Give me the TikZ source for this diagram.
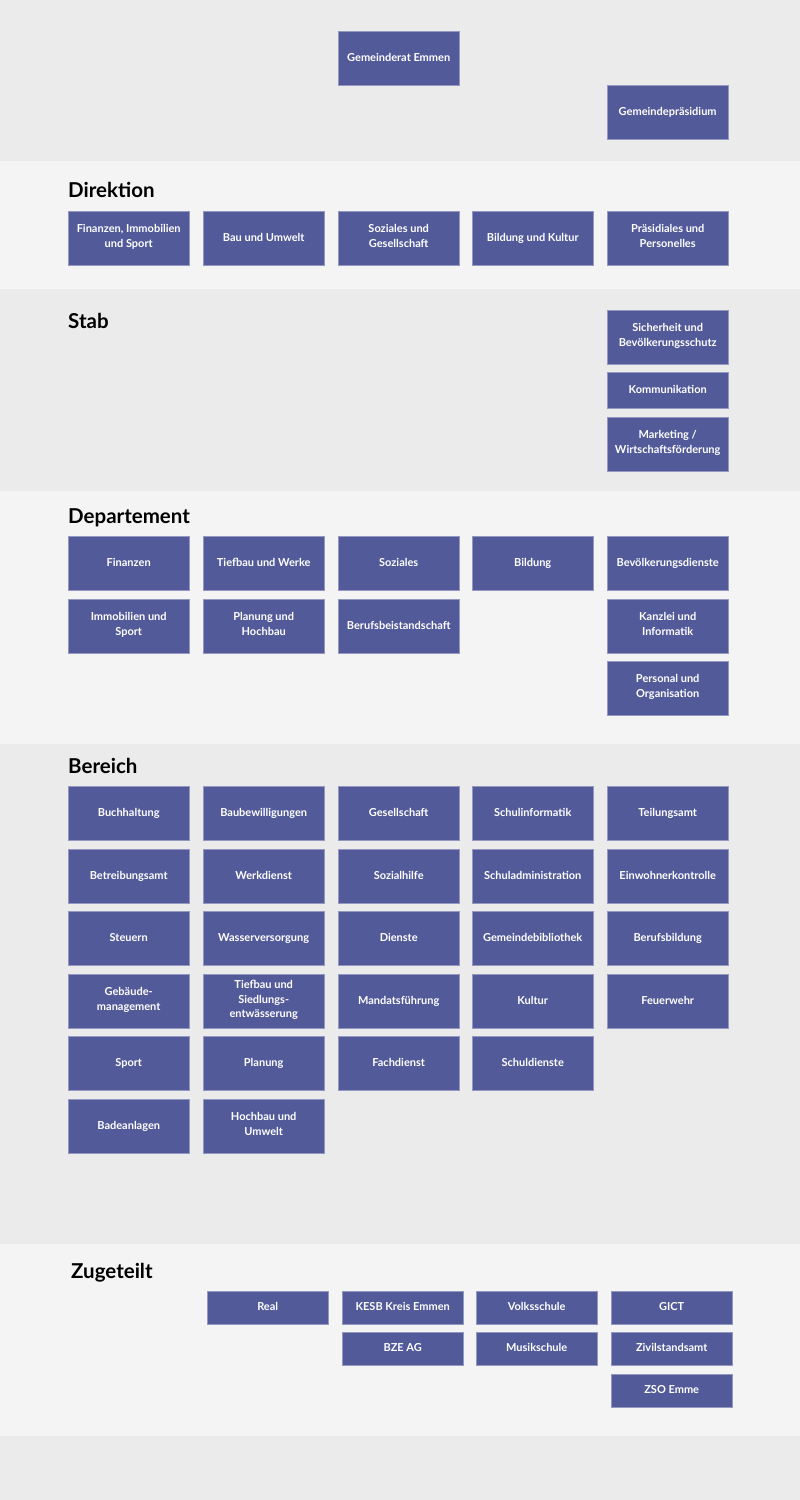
\documentclass[tikz,border=0pt]{standalone}
\usepackage{fontspec}
\setmainfont{Lato}
\newfontfamily\boxfont{Lato}
\definecolor{bandA}{HTML}{EBEBEB}
\definecolor{bandB}{HTML}{F4F4F4}
\definecolor{boxcol}{HTML}{525A99}
\definecolor{boxedge}{HTML}{9497BF}
\tikzset{
  orgbox/.style={fill=boxcol, draw=boxedge, line width=0.4pt, text=white,
    font=\boxfont\bfseries\fontsize{11}{14.5}\selectfont, align=center,
    inner sep=0pt, anchor=north west, minimum width=121pt, minimum height=54pt,
    execute at begin node=\strut, execute at end node=\strut},
  title/.style={font=\bfseries\fontsize{20.5}{24}\selectfont, text=black, anchor=base west, inner sep=0pt}
}
\newcommand{\bx}[5][]{\node[orgbox,#1] (#2) at (#3,#4) {#5};}
\begin{document}
\begin{tikzpicture}[x=1pt,y=-1pt]
\useasboundingbox (0,0) rectangle (800,1500);
% bands
\fill[bandA] (0,0) rectangle (800,161);
\fill[bandB] (0,161) rectangle (800,289);
\fill[bandA] (0,289) rectangle (800,490.5);
\fill[bandB] (0,490.5) rectangle (800,744);
\fill[bandA] (0,744) rectangle (800,1244);
\fill[bandB] (0,1244) rectangle (800,1435.5);
\fill[bandA] (0,1435.5) rectangle (800,1500);
% top
\bx{rat}{338}{31}{Gemeinderat Emmen}
\bx{praes}{607}{85}{Gemeindepräsidium}
% Direktion
\node[title] (tdir) at (68,197) {Direktion};
\bx{d1}{68}{211}{Finanzen, Immobilien\\und Sport}
\bx{d2}{203}{211}{Bau und Umwelt}
\bx{d3}{338}{211}{Soziales und\\Gesellschaft}
\bx{d4}{472}{211}{Bildung und Kultur}
\bx{d5}{607}{211}{Präsidiales und\\Personelles}
% Stab
\node[title] (tstab) at (68,328) {Stab};
\bx{s1}{607}{310}{Sicherheit und\\Bevölkerungsschutz}
\bx[minimum height=36pt]{s2}{607}{372}{Kommunikation}
\bx{s3}{607}{417}{Marketing /\\Wirtschaftsförderung}
% Departement
\node[title] (tdep) at (68,523) {Departement};
\bx{p11}{68}{536}{Finanzen}
\bx{p12}{203}{536}{Tiefbau und Werke}
\bx{p13}{338}{536}{Soziales}
\bx{p14}{472}{536}{Bildung}
\bx{p15}{607}{536}{Bevölkerungsdienste}
\bx{p21}{68}{599}{Immobilien und\\Sport}
\bx{p22}{203}{599}{Planung und\\Hochbau}
\bx{p23}{338}{599}{Berufsbeistandschaft}
\bx{p25}{607}{599}{Kanzlei und\\Informatik}
\bx{p35}{607}{661}{Personal und\\Organisation}
% Bereich
\node[title] (tber) at (68,773) {Bereich};
\bx{b11}{68}{786}{Buchhaltung}
\bx{b12}{203}{786}{Baubewilligungen}
\bx{b13}{338}{786}{Gesellschaft}
\bx{b14}{472}{786}{Schulinformatik}
\bx{b15}{607}{786}{Teilungsamt}
\bx{b21}{68}{849}{Betreibungsamt}
\bx{b22}{203}{849}{Werkdienst}
\bx{b23}{338}{849}{Sozialhilfe}
\bx{b24}{472}{849}{Schuladministration}
\bx{b25}{607}{849}{Einwohnerkontrolle}
\bx{b31}{68}{911}{Steuern}
\bx{b32}{203}{911}{Wasserversorgung}
\bx{b33}{338}{911}{Dienste}
\bx{b34}{472}{911}{Gemeindebibliothek}
\bx{b35}{607}{911}{Berufsbildung}
\bx{b41}{68}{974}{Gebäude-\\management}
\bx{b42}{203}{974}{Tiefbau und\\Siedlungs-\\entwässerung}
\bx{b43}{338}{974}{Mandatsführung}
\bx{b44}{472}{974}{Kultur}
\bx{b45}{607}{974}{Feuerwehr}
\bx{b51}{68}{1036}{Sport}
\bx{b52}{203}{1036}{Planung}
\bx{b53}{338}{1036}{Fachdienst}
\bx{b54}{472}{1036}{Schuldienste}
\bx{b61}{68}{1099}{Badeanlagen}
\bx{b62}{203}{1099}{Hochbau und\\Umwelt}
% Zugeteilt
\node[title] (tzug) at (71,1278) {Zugeteilt};
\bx[minimum height=33pt]{z11}{207}{1291}{Real}
\bx[minimum height=33pt]{z12}{342}{1291}{KESB Kreis Emmen}
\bx[minimum height=33pt]{z13}{476}{1291}{Volksschule}
\bx[minimum height=33pt]{z14}{611}{1291}{GICT}
\bx[minimum height=33pt]{z22}{342}{1332}{BZE AG}
\bx[minimum height=33pt]{z23}{476}{1332}{Musikschule}
\bx[minimum height=33pt]{z24}{611}{1332}{Zivilstandsamt}
\bx[minimum height=33pt]{z34}{611}{1374}{ZSO Emme}
\end{tikzpicture}
\end{document}
